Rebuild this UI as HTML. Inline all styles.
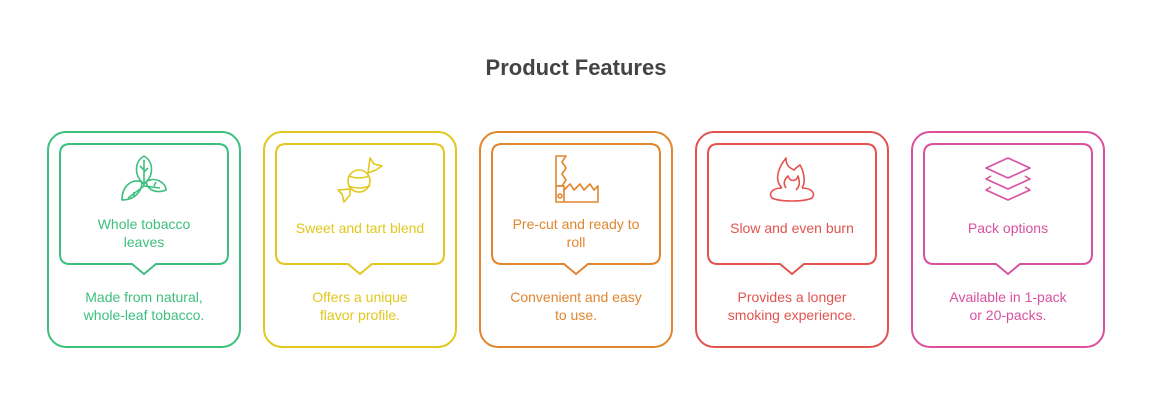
<!DOCTYPE html>
<html><head><meta charset="utf-8"><style>
html,body{margin:0;padding:0;background:#fff;}
svg{display:block;}
text{font-family:"Liberation Sans",Arial,sans-serif;}
</style></head><body>
<svg width="1153" height="420" viewBox="0 0 1153 420" xmlns="http://www.w3.org/2000/svg">
<text x="576" y="75" text-anchor="middle" font-size="22" font-weight="bold" fill="#444">Product Features</text>

<!-- card 1 green -->
<g stroke="#3dbf7d" fill="none" stroke-width="2">
<rect x="48" y="132" width="192" height="215" rx="18"/>
<path d="M70 144 H218 Q228 144 228 154 V254 Q228 264 218 264 H156 L144 274 L132 264 H70 Q60 264 60 254 V154 Q60 144 70 144 Z"/>
<g stroke-width="1.6" stroke-linejoin="round">
<path d="M144 156 C134 162 134 176 144 184 C154 176 154 162 144 156 Z"/>
<path d="M142 182 C132 178 122 186 122 200 C134 200 142 192 142 182 Z"/>
<path d="M146 182 C154 176 166 182 166 190 C156 194 148 190 146 182 Z"/>
<path d="M144 160 V186 M144 186 L128 198 M144 186 L160 188 M144 170 L140 166 M144 172 L148 168 M134 192 L134 196 M154 186 L156 182"/>
</g>
</g>
<text fill="#3dbf7d" font-size="14" text-anchor="middle"><tspan x="144" y="229">Whole tobacco</tspan><tspan x="144" y="247">leaves</tspan></text>
<text fill="#3dbf7d" font-size="14" text-anchor="middle"><tspan x="144" y="302">Made from natural,</tspan><tspan x="144" y="320">whole-leaf tobacco.</tspan></text>

<!-- card 2 yellow -->
<g stroke="#e2c71c" fill="none" stroke-width="2">
<rect x="264" y="132" width="192" height="215" rx="18"/>
<path d="M286 144 H434 Q444 144 444 154 V254 Q444 264 434 264 H372 L360 274 L348 264 H286 Q276 264 276 254 V154 Q276 144 286 144 Z"/>
<g stroke-width="1.6" stroke-linejoin="round">
<circle cx="359" cy="181" r="11"/>
<path d="M349 176 Q359 180 369 176 M348 186 Q359 190 370 186"/>
<path d="M368 173 L370 158 L374 164 L382 166 L376 170 Z"/>
<path d="M350 189 L338 190 L342 194 L344 202 L350 195 Z"/>
</g>
</g>
<text fill="#e2c71c" font-size="14" text-anchor="middle" x="360" y="233">Sweet and tart blend</text>
<text fill="#e2c71c" font-size="14" text-anchor="middle"><tspan x="360" y="302">Offers a unique</tspan><tspan x="360" y="320">flavor profile.</tspan></text>

<!-- card 3 orange -->
<g stroke="#e0862e" fill="none" stroke-width="2">
<rect x="480" y="132" width="192" height="215" rx="18"/>
<path d="M502 144 H650 Q660 144 660 154 V254 Q660 264 650 264 H588 L576 274 L564 264 H502 Q492 264 492 254 V154 Q492 144 502 144 Z"/>
<g stroke-width="1.6" stroke-linejoin="round">
<path d="M556 156 H566 L562 162 L566 168 L562 174 L566 180 L562 186 H556 Z"/>
<rect x="556" y="186" width="8" height="16"/>
<circle cx="560" cy="196" r="2"/>
<path d="M564 190 L570 184 L574 190 L580 184 L584 190 L590 184 L594 190 L598 186 V202 H564"/>
</g>
</g>
<text fill="#e0862e" font-size="14" text-anchor="middle"><tspan x="576" y="229">Pre-cut and ready to</tspan><tspan x="576" y="247">roll</tspan></text>
<text fill="#e0862e" font-size="14" text-anchor="middle"><tspan x="576" y="302">Convenient and easy</tspan><tspan x="576" y="320">to use.</tspan></text>

<!-- card 4 red -->
<g stroke="#e2534f" fill="none" stroke-width="2">
<rect x="696" y="132" width="192" height="215" rx="18"/>
<path d="M718 144 H866 Q876 144 876 154 V254 Q876 264 866 264 H804 L792 274 L780 264 H718 Q708 264 708 254 V154 Q708 144 718 144 Z"/>
<g stroke-width="1.6" stroke-linejoin="round">
<path d="M782 188 C774 180 778 168 786 158 C786 166 790 168 794 170 C796 168 798 166 800 165 C804 172 806 182 802 188"/>
<path d="M786 188 C782 182 786 178 788 176 C790 182 796 182 798 176 C800 182 800 186 796 190"/>
<path d="M782 188 C772 188 768 194 772 198 C780 202 804 202 812 198 C816 194 812 188 802 188"/>
</g>
</g>
<text fill="#e2534f" font-size="14" text-anchor="middle" x="792" y="233">Slow and even burn</text>
<text fill="#e2534f" font-size="14" text-anchor="middle"><tspan x="792" y="302">Provides a longer</tspan><tspan x="792" y="320">smoking experience.</tspan></text>

<!-- card 5 pink -->
<g stroke="#d9509f" fill="none" stroke-width="2">
<rect x="912" y="132" width="192" height="215" rx="18"/>
<path d="M934 144 H1082 Q1092 144 1092 154 V254 Q1092 264 1082 264 H1020 L1008 274 L996 264 H934 Q924 264 924 254 V154 Q924 144 934 144 Z"/>
<g stroke-width="1.6" stroke-linejoin="round">
<path d="M1008 158 L1030 168 L1008 178 L986 168 Z"/>
<path d="M991 176 L986 179 L1008 189 L1030 179 L1025 176"/>
<path d="M991 187 L986 190 L1008 200 L1030 190 L1025 187"/>
</g>
</g>
<text fill="#d9509f" font-size="14" text-anchor="middle" x="1008" y="233">Pack options</text>
<text fill="#d9509f" font-size="14" text-anchor="middle"><tspan x="1008" y="302">Available in 1-pack</tspan><tspan x="1008" y="320">or 20-packs.</tspan></text>
</svg>
</body></html>
